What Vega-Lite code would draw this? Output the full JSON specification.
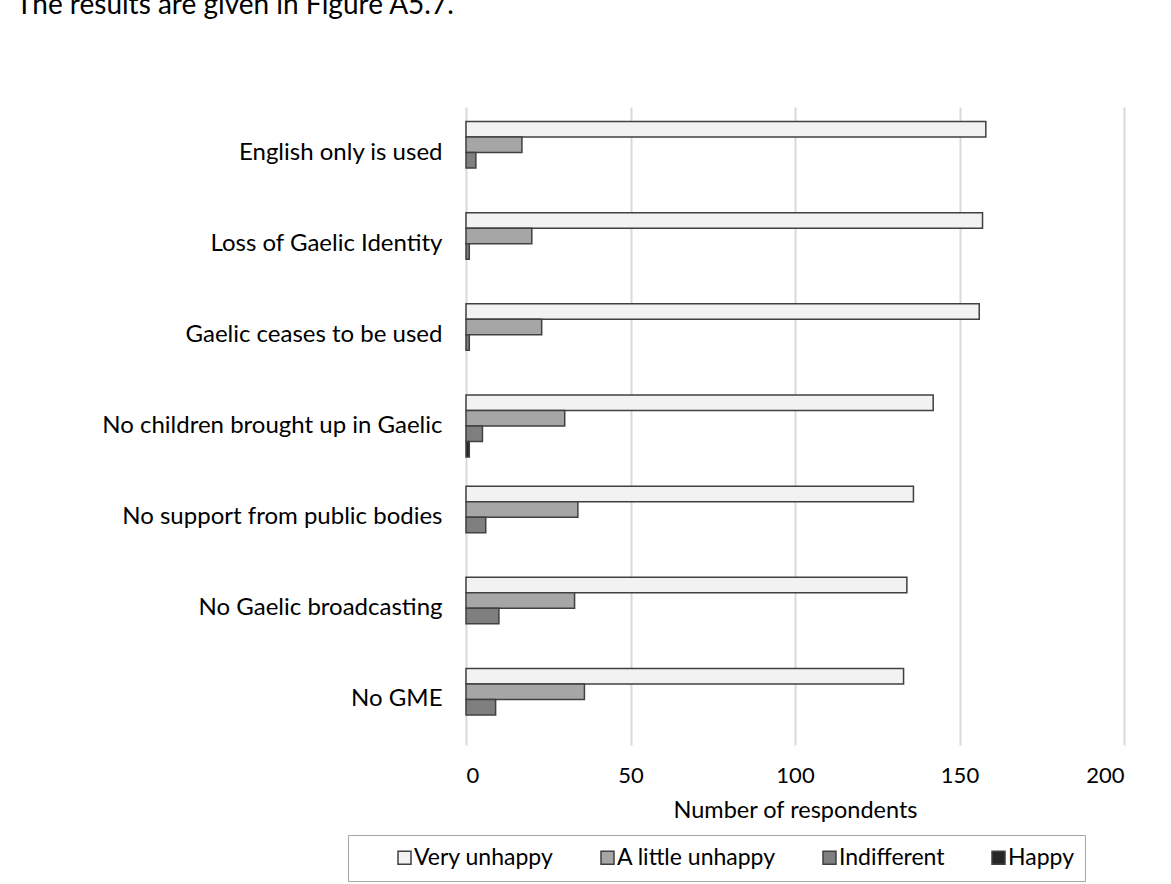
{
  "$schema": "https://vega.github.io/schema/vega-lite/v6.json",
  "width": 658,
  "height": 638,
  "autosize": {"type": "none"},
  "padding": {"left": 466, "top": 107, "right": 47, "bottom": 139},
  "background": "white",
  "config": {
    "font": "Lato",
    "view": {"stroke": null}
  },
  "title": {
    "text": "The results are given in Figure A5.7.",
    "anchor": "start",
    "frame": "group",
    "orient": "top",
    "offset": 87,
    "dx": -450,
    "fontSize": 28,
    "fontWeight": "normal",
    "color": "#000000"
  },
  "data": {
    "values": [
      {"item": "English only is used", "response": "Very unhappy", "count": 158},
      {"item": "English only is used", "response": "A little unhappy", "count": 17},
      {"item": "English only is used", "response": "Indifferent", "count": 3},
      {"item": "English only is used", "response": "Happy", "count": 0},
      {"item": "Loss of Gaelic Identity", "response": "Very unhappy", "count": 157},
      {"item": "Loss of Gaelic Identity", "response": "A little unhappy", "count": 20},
      {"item": "Loss of Gaelic Identity", "response": "Indifferent", "count": 1},
      {"item": "Loss of Gaelic Identity", "response": "Happy", "count": 0},
      {"item": "Gaelic ceases to be used", "response": "Very unhappy", "count": 156},
      {"item": "Gaelic ceases to be used", "response": "A little unhappy", "count": 23},
      {"item": "Gaelic ceases to be used", "response": "Indifferent", "count": 1},
      {"item": "Gaelic ceases to be used", "response": "Happy", "count": 0},
      {"item": "No children brought up in Gaelic", "response": "Very unhappy", "count": 142},
      {"item": "No children brought up in Gaelic", "response": "A little unhappy", "count": 30},
      {"item": "No children brought up in Gaelic", "response": "Indifferent", "count": 5},
      {"item": "No children brought up in Gaelic", "response": "Happy", "count": 1},
      {"item": "No support from public bodies", "response": "Very unhappy", "count": 136},
      {"item": "No support from public bodies", "response": "A little unhappy", "count": 34},
      {"item": "No support from public bodies", "response": "Indifferent", "count": 6},
      {"item": "No support from public bodies", "response": "Happy", "count": 0},
      {"item": "No Gaelic broadcasting", "response": "Very unhappy", "count": 134},
      {"item": "No Gaelic broadcasting", "response": "A little unhappy", "count": 33},
      {"item": "No Gaelic broadcasting", "response": "Indifferent", "count": 10},
      {"item": "No Gaelic broadcasting", "response": "Happy", "count": 0},
      {"item": "No GME", "response": "Very unhappy", "count": 133},
      {"item": "No GME", "response": "A little unhappy", "count": 36},
      {"item": "No GME", "response": "Indifferent", "count": 9},
      {"item": "No GME", "response": "Happy", "count": 0}
    ]
  },
  "transform": [{"filter": "datum.count > 0"}],
  "mark": {"type": "bar", "stroke": "#404040", "strokeWidth": 1.5},
  "encoding": {
    "y": {
      "field": "item",
      "type": "nominal",
      "sort": [
        "English only is used",
        "Loss of Gaelic Identity",
        "Gaelic ceases to be used",
        "No children brought up in Gaelic",
        "No support from public bodies",
        "No Gaelic broadcasting",
        "No GME"
      ],
      "scale": {"paddingInner": 0.32, "paddingOuter": 0.16},
      "axis": {
        "title": null,
        "domain": false,
        "ticks": false,
        "grid": false,
        "labelPadding": 24,
        "labelFontSize": 24,
        "labelColor": "#000000",
        "labelLimit": 500
      }
    },
    "yOffset": {
      "field": "response",
      "type": "nominal",
      "scale": {
        "domain": ["Very unhappy", "A little unhappy", "Indifferent", "Happy"],
        "paddingInner": 0,
        "paddingOuter": 0
      }
    },
    "x": {
      "field": "count",
      "type": "quantitative",
      "scale": {"domain": [0, 200], "nice": false},
      "axis": {
        "title": "Number of respondents",
        "values": [0, 50, 100, 150, 200],
        "domain": false,
        "ticks": false,
        "grid": true,
        "gridColor": "#d9d9d9",
        "gridWidth": 2,
        "labelPadding": 20,
        "labelFontSize": 22,
        "labelColor": "#000000",
        "titleFontSize": 23.5,
        "titleFontWeight": "normal",
        "titleColor": "#000000",
        "titlePadding": 12
      }
    },
    "fill": {
      "field": "response",
      "type": "nominal",
      "scale": {
        "domain": ["Very unhappy", "A little unhappy", "Indifferent", "Happy"],
        "range": ["#f2f2f2", "#a6a6a6", "#7f7f7f", "#262626"]
      },
      "legend": {
        "orient": "none",
        "direction": "horizontal",
        "legendX": -118,
        "legendY": 728,
        "title": " ",
        "titleOrient": "left",
        "titleFontSize": 2,
        "titlePadding": 34,
        "padding": 11,
        "strokeColor": "#a6a6a6",
        "symbolType": "square",
        "symbolSize": 169,
        "symbolStrokeColor": "#404040",
        "symbolStrokeWidth": 1.5,
        "labelFontSize": 23,
        "labelColor": "#000000",
        "labelOffset": -2,
        "labelExpr": "datum.label == 'Happy' ? 'Happy\u00a0\u00a0\u00a0\u00a0\u00a0\u00a0' : datum.label",
        "columnPadding": 42,
        "labelLimit": 400
      }
    }
  }
}
